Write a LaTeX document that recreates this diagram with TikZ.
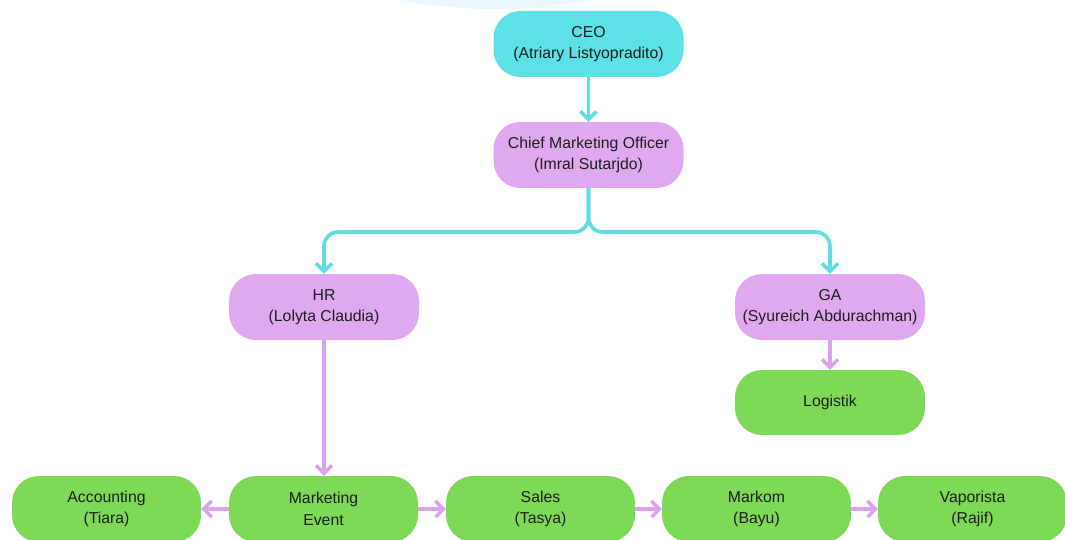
\documentclass[tikz,border=0pt]{standalone}
\usepackage{fontspec}
\setmainfont{Liberation Sans}
\usetikzlibrary{arrows.meta}
\definecolor{cyanbox}{HTML}{5CE1E6}
\definecolor{purplebox}{HTML}{E0A8EF}
\definecolor{greenbox}{HTML}{7ED957}
\definecolor{cyanline}{HTML}{5FDDE3}
\definecolor{purpleline}{HTML}{DDA2EE}
\definecolor{bgcircle}{HTML}{ECF6FE}
\definecolor{txt}{HTML}{1E1E1E}
\tikzset{
  box/.style={rounded corners=27pt, minimum width=190pt, minimum height=66pt,
    inner sep=0pt, align=center, text=txt,
    font=\fontsize{15.8pt}{21.5pt}\selectfont},
  ceobox/.style={box, fill=cyanbox},
  purbox/.style={box, fill=purplebox},
  grbox/.style={box, fill=greenbox},
  tip/.style={-{Straight Barb[length=8pt,width=16pt,line width=3.4pt]}},
  cyanarrow/.style={tip, draw=cyanline, line width=3.6pt},
  purarrow/.style={tip, draw=purpleline, line width=3.9pt}
}
\begin{document}
\begin{tikzpicture}[x=1pt,y=-1pt]
\useasboundingbox (0,0) rectangle (1065,540);
\clip (0,0) rectangle (1065,540);
\fill[bgcircle] (495,-507) circle (516);
\node[ceobox] (ceo) at (588.5,44) {CEO\\(Atriary Listyopradito)};
\node[purbox] (cmo) at (588.5,155) {Chief Marketing Officer\\(Imral Sutarjdo)};
\node[purbox] (hr) at (324,307) {HR\\(Lolyta Claudia)};
\node[purbox] (ga) at (830,307) {GA\\(Syureich Abdurachman)};
\node[grbox, minimum height=65pt] (log) at (830,402.5) {Logistik};
\node[grbox, minimum width=189pt] (acc) at (106.5,509) {Accounting\\(Tiara)};
\node[grbox, minimum width=189pt] (mkt) at (323.5,509) {Marketing\\Event};
\node[grbox, minimum width=189pt] (sales) at (540.5,509) {Sales\\(Tasya)};
\node[grbox, minimum width=189pt] (markom) at (756.5,509) {Markom\\(Bayu)};
\node[grbox, minimum width=189pt] (vap) at (972.5,509) {Vaporista\\(Rajif)};
\coordinate (fork) at (588.5,232);
\draw[cyanarrow] (ceo) -- (cmo);
\draw[cyanarrow, rounded corners=14pt] (cmo.south) -- (fork) -| (hr.north);
\draw[cyanarrow, rounded corners=14pt] (cmo.south) -- (fork) -| (ga.north);
\draw[purarrow] (hr) -- (hr |- mkt.north);
\draw[purarrow] (ga) -- (log);
\draw[purarrow] (mkt) -- (acc);
\draw[purarrow] (mkt) -- (sales);
\draw[purarrow] (sales) -- (markom);
\draw[purarrow] (markom) -- (vap);
\end{tikzpicture}
\end{document}
